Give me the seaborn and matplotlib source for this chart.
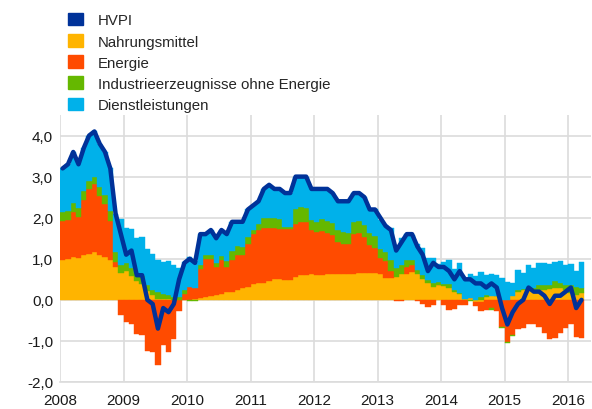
import numpy as np
import pandas as pd
import matplotlib
matplotlib.use('Agg')
import matplotlib.pyplot as plt
from matplotlib.patches import Patch
import seaborn as sns

# monatliche Beiträge (Prozentpunkte), Jan 2008 - Mär 2016
food = [0.96, 1.00, 1.04, 1.02, 1.08, 1.12, 1.16, 1.10, 1.04, 0.96, 0.80, 0.66,
        0.70, 0.58, 0.45, 0.38, 0.22, 0.12, 0.03, 0.02, 0.01, 0.00, 0.00, 0.00,
        0.00, 0.02, 0.05, 0.08, 0.10, 0.12, 0.15, 0.18, 0.20, 0.25, 0.28, 0.32,
        0.38, 0.40, 0.42, 0.45, 0.50, 0.50, 0.48, 0.48, 0.55, 0.60, 0.60, 0.62,
        0.60, 0.60, 0.62, 0.62, 0.62, 0.62, 0.62, 0.62, 0.65, 0.65, 0.65, 0.65,
        0.62, 0.53, 0.52, 0.56, 0.62, 0.62, 0.68, 0.62, 0.50, 0.40, 0.32, 0.35,
        0.33, 0.29, 0.20, 0.14, 0.02, 0.04, -0.05, -0.05, 0.06, 0.10, 0.10, 0.00,
        0.00, 0.10, 0.20, 0.23, 0.23, 0.25, 0.23, 0.25, 0.27, 0.29, 0.29, 0.23,
        0.16, 0.12, 0.16]
energy = [0.97, 0.95, 1.10, 1.00, 1.35, 1.58, 1.67, 1.44, 1.30, 0.95, 0.12, -0.38,
          -0.54, -0.58, -0.83, -0.86, -1.24, -1.28, -1.58, -1.10, -1.26, -0.95, -0.26, 0.15,
          0.32, 0.28, 0.70, 0.92, 0.90, 0.68, 0.82, 0.62, 0.78, 0.85, 0.80, 1.05,
          1.22, 1.30, 1.33, 1.30, 1.25, 1.22, 1.24, 1.24, 1.30, 1.30, 1.30, 1.08,
          1.05, 1.08, 1.00, 0.95, 0.80, 0.75, 0.75, 0.98, 0.98, 0.88, 0.68, 0.62,
          0.41, 0.41, 0.18, -0.04, -0.02, 0.17, 0.17, -0.03, -0.09, -0.18, -0.12, 0.00,
          -0.13, -0.24, -0.22, -0.13, -0.12, 0.01, -0.10, -0.21, -0.25, -0.21, -0.27, -0.66,
          -1.02, -0.85, -0.70, -0.68, -0.60, -0.58, -0.65, -0.80, -0.95, -0.92, -0.80, -0.68,
          -0.60, -0.90, -0.92]
neig = [0.20, 0.22, 0.22, 0.22, 0.22, 0.20, 0.15, 0.20, 0.22, 0.25, 0.24, 0.20,
        0.20, 0.20, 0.20, 0.20, 0.15, 0.12, 0.15, 0.12, 0.12, 0.08, 0.08, 0.08,
        -0.04, -0.04, 0.10, 0.10, 0.10, 0.10, 0.10, 0.15, 0.20, 0.20, 0.20, 0.16,
        0.10, 0.15, 0.25, 0.25, 0.25, 0.25, 0.05, 0.05, 0.35, 0.35, 0.33, 0.25,
        0.25, 0.28, 0.30, 0.30, 0.28, 0.28, 0.25, 0.30, 0.30, 0.30, 0.30, 0.28,
        0.22, 0.22, 0.27, 0.22, 0.22, 0.19, 0.11, 0.11, 0.11, 0.08, 0.08, 0.08,
        0.05, 0.10, 0.05, 0.03, 0.00, -0.03, 0.00, 0.08, 0.05, -0.03, 0.00, -0.03,
        -0.03, -0.03, 0.05, 0.03, 0.05, 0.05, 0.13, 0.11, 0.08, 0.16, 0.13, 0.13,
        0.19, 0.19, 0.13]
services = [1.07, 1.13, 1.24, 1.06, 1.05, 1.10, 1.12, 1.06, 1.04, 1.04, 0.94, 1.12,
            0.85, 0.95, 0.85, 0.95, 0.88, 0.88, 0.80, 0.78, 0.82, 0.78, 0.70, 0.68,
            0.72, 0.64, 0.75, 0.50, 0.60, 0.60, 0.63, 0.65, 0.72, 0.60, 0.62, 0.67,
            0.60, 0.55, 0.70, 0.80, 0.70, 0.73, 0.83, 0.83, 0.80, 0.75, 0.77, 0.75,
            0.80, 0.74, 0.78, 0.73, 0.70, 0.75, 0.78, 0.70, 0.67, 0.67, 0.57, 0.65,
            0.70, 0.66, 0.79, 0.48, 0.66, 0.62, 0.62, 0.62, 0.66, 0.53, 0.62, 0.44,
            0.54, 0.59, 0.50, 0.72, 0.50, 0.59, 0.59, 0.59, 0.50, 0.54, 0.50, 0.54,
            0.44, 0.31, 0.48, 0.40, 0.57, 0.48, 0.53, 0.53, 0.53, 0.48, 0.53, 0.48,
            0.53, 0.40, 0.62]
hvpi = [3.2, 3.3, 3.6, 3.3, 3.7, 4.0, 4.1, 3.8, 3.6, 3.2, 2.1, 1.6,
        1.1, 1.2, 0.6, 0.6, 0.0, -0.1, -0.7, -0.2, -0.3, -0.1, 0.5, 0.9,
        1.0, 0.9, 1.6, 1.6, 1.7, 1.5, 1.7, 1.6, 1.9, 1.9, 1.9, 2.2,
        2.3, 2.4, 2.7, 2.8, 2.7, 2.7, 2.6, 2.6, 3.0, 3.0, 3.0, 2.7,
        2.7, 2.7, 2.7, 2.6, 2.4, 2.4, 2.4, 2.6, 2.6, 2.5, 2.2, 2.2,
        2.0, 1.8, 1.7, 1.2, 1.4, 1.6, 1.6, 1.3, 1.1, 0.7, 0.9, 0.8,
        0.8, 0.7, 0.5, 0.7, 0.5, 0.5, 0.4, 0.4, 0.3, 0.4, 0.3, -0.2,
        -0.6, -0.3, -0.1, 0.0, 0.3, 0.2, 0.2, 0.1, -0.1, 0.1, 0.1, 0.2,
        0.3, -0.2, 0.0]

years = ['2008', '2009', '2010', '2011', '2012', '2013', '2014', '2015', '2016']
labels = ['HVPI', 'Nahrungsmittel', 'Energie', 'Industrieerzeugnisse ohne Energie', 'Dienstleistungen']
colors = ['#003299', '#FFB400', '#FF4B00', '#65B800', '#00B1EA']

sns.set_style('whitegrid')
plt.rcParams['font.family'] = ['Liberation Sans', 'DejaVu Sans']

df = pd.DataFrame({'food': food, 'energy': energy, 'neig': neig,
                   'services': services, 'hvpi': hvpi})
df['x'] = np.arange(len(df)) + 0.5

fig = plt.figure(figsize=(5.92, 4.10), dpi=100)
ax = fig.add_axes([60 / 592, 1 - 383 / 410, 531 / 592, (383 - 116) / 410])

# positive Beiträge nach oben, negative nach unten stapeln
pos = np.zeros(len(df))
neg = np.zeros(len(df))
for col, c in zip(['food', 'energy', 'neig', 'services'], colors[1:]):
    v = df[col].values
    bottom = np.where(v >= 0, pos, neg)
    ax.bar(df['x'], v, width=1.0, bottom=bottom, color=c, edgecolor=c,
           linewidth=0.3, zorder=2)
    pos = pos + np.clip(v, 0, None)
    neg = neg + np.clip(v, None, 0)

sns.lineplot(data=df, x='x', y='hvpi', color=colors[0], linewidth=3.2,
             ax=ax, zorder=3, legend=False)

ax.set_xlim(0, 100.3)
ax.set_ylim(-2, 4.5)
ax.set_xticks(np.arange(0, 97, 12))
ax.set_xticklabels(years)
ax.set_yticks(np.arange(-2, 5, 1))
ax.set_yticklabels([f'{v:.1f}'.replace('.', ',') for v in np.arange(-2, 5, 1)])
ax.set_xlabel('')
ax.set_ylabel('')
ax.grid(True, color='#dcdcdc', linewidth=1.2, zorder=0)
ax.set_axisbelow(True)
for s in ['top', 'right', 'left']:
    ax.spines[s].set_visible(False)
ax.spines['bottom'].set_color('#dcdcdc')
ax.spines['bottom'].set_linewidth(1.2)
ax.tick_params(axis='y', length=0, labelsize=11, colors='#1a1a1a', pad=5)
ax.tick_params(axis='x', length=0, labelsize=11, colors='#1a1a1a', pad=8)

handles = [Patch(facecolor=c, edgecolor=c) for c in colors]
fig.legend(handles, labels, loc='upper left', bbox_to_anchor=(68 / 592, 1 - 14 / 410),
           frameon=False, fontsize=10.8, handlelength=1.0, handleheight=0.9,
           handletextpad=1.0, labelspacing=0.45, borderpad=0, borderaxespad=0)

fig.savefig('out.png', dpi=100)
